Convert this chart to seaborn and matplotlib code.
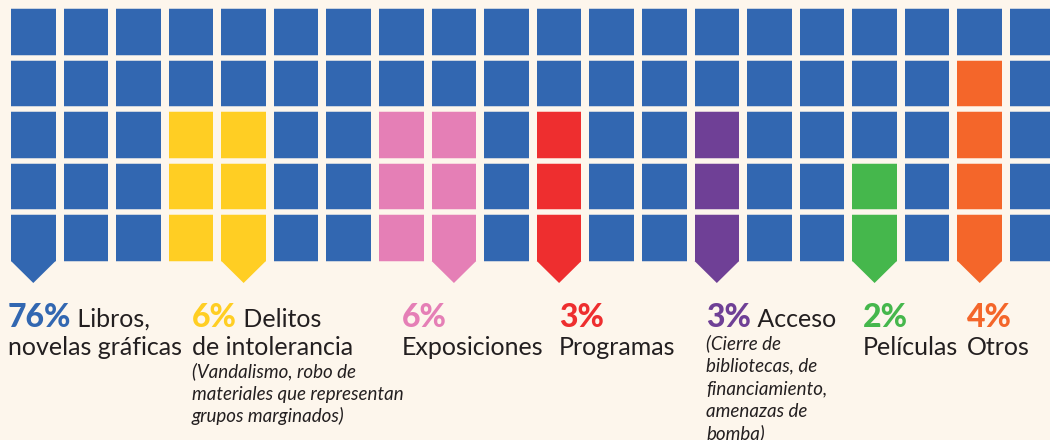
import numpy as np
import pandas as pd
import seaborn as sns
import matplotlib
matplotlib.use("Agg")
import matplotlib.pyplot as plt
from matplotlib.colors import ListedColormap

# data
categories = ["Libros, novelas gráficas", "Delitos de intolerancia", "Exposiciones",
              "Programas", "Acceso", "Películas", "Otros"]
pcts = [76, 6, 6, 3, 3, 2, 4]
colors = ["#3267b1", "#ffce23", "#e57fb6", "#ee2e2f", "#6f4096", "#45b74c", "#f4662a"]
block_cols = [[], [3, 4], [7, 8], [10], [13], [16], [18]]
arrow_cols = [0, 4, 8, 10, 13, 16, 18]
head = [" Libros,", " Delitos", "", "", " Acceso", "", ""]
second = ["novelas gráficas", "de intolerancia", "Exposiciones", "Programas", "", "Películas", "Otros"]
notes = [[], ["(Vandalismo, robo de", "materiales que representan", "grupos marginados)"], [], [],
         ["(Cierre de", "bibliotecas, de", "financiamiento,", "amenazas de", "bomba)"], [], []]

n_rows, n_cols = 5, 20
grid = np.zeros((n_rows, n_cols), dtype=int)
for k, cols in enumerate(block_cols):
    if cols:
        h = pcts[k] // len(cols)
        for c in cols:
            grid[n_rows - h:, c] = k

# layout (pixels)
W, H = 1050, 440
bg = "#fdf6ec"
ink = "#231f20"
pitch_x, pitch_y = 52.58, 51.5
gap_x, gap_y = 8, 5.5
text_x = [8, 192, 402, 559, 706, 863, 967]
note_y = [0, 377, 0, 0, 349, 0, 0]
note_step = 22.5
font = "Lato"

fig = plt.figure(figsize=(W / 100, H / 100), dpi=100, facecolor=bg)
ylim_bot = 5.5
ax = fig.add_axes([7 / W, 1 - (6.25 + ylim_bot * pitch_y) / H,
                   n_cols * pitch_x / W, ylim_bot * pitch_y / H])
sns.heatmap(pd.DataFrame(grid), cmap=ListedColormap(colors), vmin=-0.5, vmax=len(colors) - 0.5,
            cbar=False, xticklabels=False, yticklabels=False, ax=ax)
ax.set_facecolor(bg)
ax.set_ylim(ylim_bot, 0)
ax.set_xlim(0, n_cols)
for x in range(n_cols + 1):
    ax.axvline(x, color=bg, lw=gap_x * 0.72, zorder=3)
for y in range(n_rows + 1):
    ax.axhline(y, color=bg, lw=gap_y * 0.72, zorder=3)

# arrow tips under one column of each category
gx = gap_x / 2 / pitch_x
gy = gap_y / 2 / pitch_y
tip = n_rows + (283 - (6.25 + n_rows * pitch_y)) / pitch_y
for k, c in enumerate(arrow_cols):
    ax.fill([c + gx, c + 1 - gx, c + 0.5], [n_rows - gy, n_rows - gy, tip],
            color=colors[k], lw=0, zorder=5)
for s in ax.spines.values():
    s.set_visible(False)

# labels
renderer = fig.canvas.get_renderer()
for k in range(len(categories)):
    x = text_x[k]
    t = fig.text(x / W, 1 - 327 / H, f"{pcts[k]}%", color=colors[k], fontsize=23,
                 fontweight="black", family=font, va="baseline")
    if head[k]:
        bb = t.get_window_extent(renderer)
        fig.text(bb.x1 / W, 1 - 327 / H, head[k], color=ink, fontsize=18,
                 family=font, va="baseline")
    if second[k]:
        fig.text(x / W, 1 - 355 / H, second[k], color=ink, fontsize=18,
                 family=font, va="baseline")
    for i, line in enumerate(notes[k]):
        fig.text(x / W, 1 - (note_y[k] + i * note_step) / H, line, color=ink, fontsize=13.5,
                 style="italic", family=font, va="baseline")

fig.savefig("out.png", dpi=100, facecolor=bg)
